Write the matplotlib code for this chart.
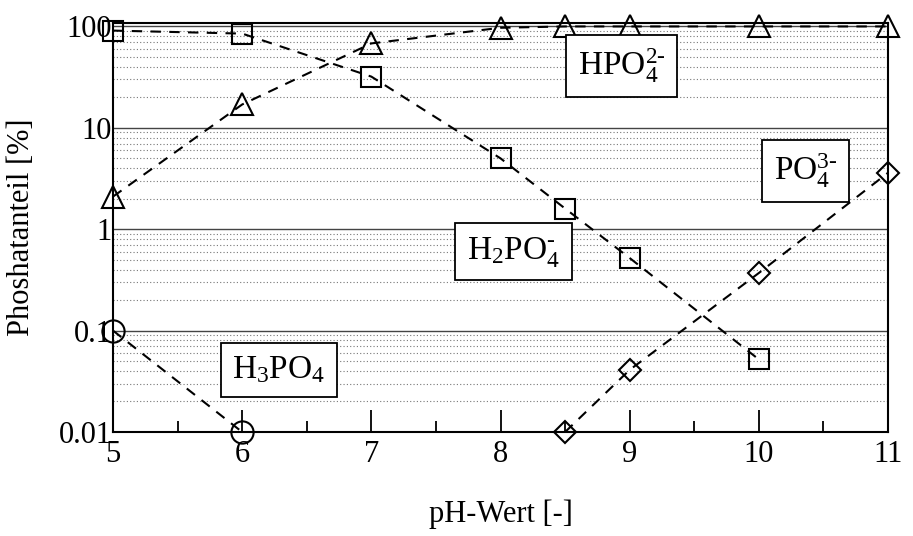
import matplotlib
matplotlib.use('Agg')
import matplotlib.pyplot as plt
from matplotlib.ticker import FixedLocator, LogLocator, NullFormatter

plt.rcParams['font.family'] = ['Liberation Serif', 'DejaVu Serif']
plt.rcParams['mathtext.fontset'] = 'custom'
plt.rcParams['mathtext.rm'] = 'Liberation Serif'
plt.rcParams['mathtext.it'] = 'Liberation Serif'

# data
ph_h3po4 = [5, 6]
h3po4 = [0.1, 0.01]

ph_h2po4 = [5, 6, 7, 8, 8.5, 9, 10]
h2po4 = [91, 85, 32, 5.0, 1.6, 0.52, 0.052]

ph_hpo4 = [5, 6, 7, 8, 8.5, 9, 10, 11]
hpo4 = [2.1, 17, 68, 97, 100, 100, 100, 100]

ph_po4 = [8.5, 9, 10, 11]
po4 = [0.01, 0.041, 0.37, 3.6]

y_ticks = [0.01, 0.1, 1, 10, 100]
y_labels = ['0.01', '0.1', '1', '10', '100']

fig = plt.figure(figsize=(9.13, 5.36), dpi=100)
ax = fig.add_axes([0.1238, 0.194, 0.8488, 0.763])

ax.set_yscale('log')
ax.set_xlim(5, 11)
ax.set_ylim(0.01, 108)

# grid
ax.yaxis.set_major_locator(FixedLocator(y_ticks))
ax.yaxis.set_minor_locator(LogLocator(base=10, subs=range(2, 10)))
ax.yaxis.set_minor_formatter(NullFormatter())
ax.set_yticklabels(y_labels)
ax.grid(True, axis='y', which='major', color='#444444', linewidth=1.0, linestyle='-')
ax.grid(True, axis='y', which='minor', color='#777777', linewidth=0.8, linestyle=(0, (1, 2)))
ax.set_axisbelow(True)

ax.set_xticks(range(5, 12))
ax.set_xticks([5.5, 6.5, 7.5, 8.5, 9.5, 10.5], minor=True)
ax.tick_params(axis='x', which='major', direction='in', length=16, width=1.3, labelsize=22, pad=6)
ax.tick_params(axis='x', which='minor', direction='in', length=8, width=1.3)
ax.tick_params(axis='y', which='both', length=0, labelsize=22, pad=1)

for s in ax.spines.values():
    s.set_linewidth(1.5)

style = dict(color='black', linestyle=(0, (5, 4)), linewidth=1.5, markerfacecolor='none',
             markeredgecolor='black', markeredgewidth=1.5, clip_on=False, zorder=5)
ax.plot(ph_h3po4, h3po4, marker='o', markersize=16, **style)
ax.plot(ph_h2po4, h2po4, marker='s', markersize=14, **style)
ax.plot(ph_hpo4, hpo4, marker='^', markersize=16, **style)
ax.plot(ph_po4, po4, marker='D', markersize=11, **style)

box = dict(boxstyle='square,pad=0.35', facecolor='white', edgecolor='black', linewidth=1.3)
ax.text(8.94, 41, r'HPO$_4^{2\text{-}}$', fontsize=24, ha='center', va='center', bbox=box, zorder=6)
ax.text(8.10, 0.6, r'H$_2$PO$_4^{\text{-}}$', fontsize=24, ha='center', va='center', bbox=box, zorder=6)
ax.text(10.36, 3.77, r'PO$_4^{3\text{-}}$', fontsize=24, ha='center', va='center', bbox=box, zorder=6)
ax.text(6.285, 0.041, r'H$_3$PO$_4$', fontsize=24, ha='center', va='center', bbox=box, zorder=6)

ax.set_xlabel('pH-Wert [-]', fontsize=22, labelpad=22)
ax.set_ylabel('Phoshatanteil [%]', fontsize=22)
ax.yaxis.set_label_coords(-0.10, 0.5)

fig.savefig('out.png', dpi=100)
